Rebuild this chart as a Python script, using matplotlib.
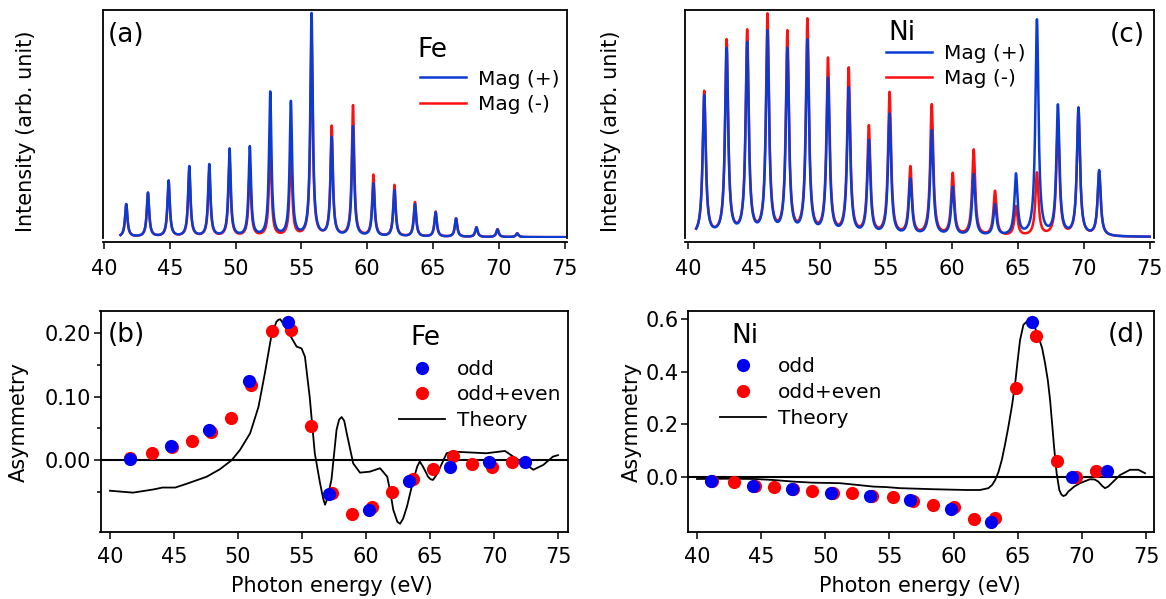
import numpy as np
import matplotlib
matplotlib.use('Agg')
import matplotlib.pyplot as plt

plt.rcParams['font.family'] = 'DejaVu Sans'
plt.rcParams['font.size'] = 15

# Harmonic peaks: photon energy (eV) and peak intensity (arb. unit)
fe_peak_e = [41.69, 43.34, 44.91, 46.48, 48.0, 49.54, 51.08, 52.63, 54.2, 55.77,
             57.3, 58.92, 60.47, 62.07, 63.63, 65.2, 66.75, 68.3, 69.9, 71.4]
fe_plus = [35, 46.7, 58.7, 73, 75, 90.7, 93, 147.7, 138.3, 226.3,
           102.3, 113, 55.7, 49, 35, 26.7, 20.7, 11.7, 9.7, 5.7]
fe_minus = [34.7, 45.7, 56.3, 68.6, 68.5, 79.3, 73.2, 97.6, 91.2, 203,
            113.5, 134, 64.5, 54.2, 37.1, 27.5, 20.4, 11.8, 9.9, 5.7]

ni_peak_e = [41.21, 42.91, 44.47, 46.01, 47.52, 49.04, 50.6, 52.17, 53.7, 55.27,
             56.85, 58.47, 60.06, 61.65, 63.27, 64.86, 66.45, 68.04, 69.6, 71.17]
ni_plus = [145, 192.3, 198.3, 210, 192.3, 200.7, 162.7, 152.7, 100, 126.7,
           61.7, 110, 53.3, 66, 36, 66.7, 220.7, 135.7, 132.7, 70]
ni_minus = [149.3, 201, 210.7, 226.7, 210, 221.7, 182.7, 172.7, 115, 148.3,
            74, 136, 67.3, 90.7, 49.3, 34, 67.7, 120, 132, 68.3]

# Magnetic asymmetry, Fe
fe_odd_e = [41.56, 44.74, 47.76, 50.86, 53.93, 57.1, 60.23, 63.34, 66.54, 69.6, 72.42]
fe_odd = [0.002, 0.022, 0.047, 0.124, 0.217, -0.053, -0.079, -0.033, -0.010, -0.003, -0.003]
fe_all_e = [41.6, 43.26, 44.87, 46.38, 47.89, 49.45, 50.99, 52.63, 54.11, 55.7,
            57.32, 58.88, 60.44, 62.03, 63.7, 65.21, 66.77, 68.3, 69.87, 71.38]
fe_all = [0.004, 0.011, 0.021, 0.031, 0.045, 0.067, 0.119, 0.204, 0.205, 0.054,
          -0.052, -0.085, -0.073, -0.050, -0.029, -0.014, 0.007, -0.006, -0.010, -0.003]
fe_theory_e = [40.0, 41.8, 43.4, 44.1, 45.1, 46.0, 47.55, 48.6, 49.5, 50.15, 50.95,
               51.6, 52.1, 52.6, 53.0, 53.15, 53.3, 53.5, 54.06, 54.58, 54.97, 55.23,
               55.6, 56.0, 56.4, 56.65, 56.8, 56.95, 57.3, 57.7, 57.9, 58.1, 58.3,
               58.5, 59.0, 59.53, 60.3, 61.1, 61.66, 61.9, 62.13, 62.45, 62.66, 62.9,
               63.2, 63.7, 64.0, 64.2, 64.45, 64.85, 65.05, 65.23, 65.45, 65.76, 66.3,
               66.8, 68.37, 69.4, 70.86, 71.5, 72.55, 73.07, 73.85, 74.6, 75.0]
fe_theory = [-0.048, -0.051, -0.046, -0.043, -0.043, -0.037, -0.026, -0.014, 0.0,
             0.016, 0.0425, 0.084, 0.137, 0.195, 0.218, 0.221, 0.222, 0.216, 0.197,
             0.179, 0.176, 0.163, 0.10, 0.011, -0.035, -0.060, -0.070, -0.062,
             -0.031, 0.048, 0.064, 0.068, 0.062, 0.042, -0.005, -0.0195, -0.018,
             -0.0126, -0.026, -0.050, -0.078, -0.097, -0.100, -0.092, -0.073,
             -0.031, -0.010, -0.002, -0.010, -0.026, -0.030, -0.031, -0.025, -0.0126,
             0.011, 0.0136, 0.012, 0.011, 0.0146, 0.0057, -0.0074, -0.015, -0.0074,
             0.0057, 0.008]

# Magnetic asymmetry, Ni
ni_odd_e = [41.09, 44.39, 47.38, 50.42, 53.48, 56.6, 59.77, 62.89, 66.09, 69.2, 71.98]
ni_odd = [-0.016, -0.034, -0.047, -0.061, -0.073, -0.089, -0.122, -0.171, 0.590, 0.0, 0.023]
ni_all_e = [41.2, 42.91, 44.5, 46.0, 47.5, 49.0, 50.57, 52.1, 53.66, 55.3,
            56.85, 58.42, 60.03, 61.59, 63.25, 64.86, 66.42, 68.03, 69.57, 71.1]
ni_all = [-0.016, -0.021, -0.036, -0.040, -0.047, -0.053, -0.061, -0.063, -0.075, -0.079,
          -0.091, -0.108, -0.117, -0.161, -0.159, 0.339, 0.536, 0.061, 0.0, 0.023]
ni_theory_e = [40.0, 42.5, 44.5, 46.0, 47.5, 49.0, 51.15, 53.75, 54.8, 55.82, 58.42,
               61.02, 62.06, 62.71, 63.0, 63.24, 63.5, 63.76, 64.0, 64.27, 64.55,
               64.8, 65.0, 65.18, 65.44, 65.83, 66.22, 66.61, 66.9, 67.13, 67.35,
               67.52, 67.7, 67.83, 68.03, 68.24, 68.4, 68.55, 68.75, 68.94, 69.4,
               69.85, 70.63, 71.0, 71.28, 71.55, 71.8, 72.05, 72.32, 72.97, 73.75,
               74.4, 74.92]
ni_theory = [-0.009, -0.008, -0.009, -0.013, -0.019, -0.023, -0.025, -0.038, -0.040,
             -0.044, -0.048, -0.051, -0.051, -0.044, -0.032, -0.013, 0.018, 0.064,
             0.12, 0.19, 0.27, 0.356, 0.445, 0.52, 0.578, 0.597, 0.584, 0.533,
             0.49, 0.432, 0.365, 0.292, 0.19, 0.114, 0.013, -0.051, -0.068, -0.074,
             -0.070, -0.057, -0.038, -0.025, -0.010, -0.011, -0.019, -0.034, -0.044,
             -0.038, -0.025, 0.006, 0.026, 0.026, 0.013]

BLUE = '#0a3cd4'
RED = '#ff1010'
DOT_BLUE = '#0000f0'
DOT_RED = '#ff0000'


def spectrum(e, centers, heights, width, bg):
    # lorentzian line for each harmonic, amplitudes chosen so the summed
    # curve passes through the given peak heights
    centers = np.asarray(centers)
    heights = np.asarray(heights, dtype=float)
    lor = lambda x: width ** 2 / (x ** 2 + width ** 2)
    m = lor(centers[:, None] - centers[None, :])
    amp = np.linalg.solve(m, heights - bg)
    return bg + lor(e[:, None] - centers[None, :]) @ amp


W, H = 1166, 599
fig = plt.figure(figsize=(W / 100, H / 100), dpi=100)
ax_a = fig.add_axes([102.5 / W, 1 - 238 / H, 464.5 / W, 228 / H])
ax_c = fig.add_axes([684.7 / W, 1 - 238 / H, 469.3 / W, 228 / H])
ax_b = fig.add_axes([100.5 / W, 1 - 532 / H, 467.5 / W, 221 / H])
ax_d = fig.add_axes([688 / W, 1 - 532 / H, 466 / W, 221 / H])

leg_kw = dict(loc='upper left', frameon=False, fontsize=14.5, handlelength=2.28,
              handletextpad=0.58, labelspacing=0.33, borderpad=0, borderaxespad=0,
              numpoints=1)

# top: spectra
e_fe = np.linspace(41.25, 75.0, 4000)
e_ni = np.linspace(40.6, 75.0, 4000)
for ax, e, pk, plus, minus, w, bg, name, tag, lims in [
        (ax_a, e_fe, fe_peak_e, fe_plus, fe_minus, 0.11, 1.8, 'Fe', '(a)', (39.886, 75.18, 1, 229)),
        (ax_c, e_ni, ni_peak_e, ni_plus, ni_minus, 0.14, 3.0, 'Ni', '(c)', (39.73, 75.33, 2, 230))]:
    l_minus, = ax.plot(e, spectrum(e, pk, minus, w, bg), color=RED, lw=1.8)
    l_plus, = ax.plot(e, spectrum(e, pk, plus, w, bg), color=BLUE, lw=1.8)
    ax.set_xlim(lims[0], lims[1])
    ax.set_ylim(lims[2], lims[3])
    ax.set_yticks([])
    ax.set_xticks(range(40, 80, 5))
    ax.spines['bottom'].set_position(('outward', 3))
    ax.tick_params(axis='x', direction='out', length=5, width=1.1, pad=7, labelsize=15)
    ax.set_ylabel('Intensity (arb. unit)', fontsize=15)
    if name == 'Fe':
        ax.yaxis.set_label_coords(-0.143, 0.47)
        ax.text(0.677, 0.795, name, transform=ax.transAxes, fontsize=19)
        ax.legend([l_plus, l_minus], ['Mag (+)', 'Mag (-)'],
                  bbox_to_anchor=(0.6835, 0.739), **leg_kw)
        ax.text(0.012, 0.8925, tag, transform=ax.transAxes, fontsize=19, va='center')
    else:
        ax.yaxis.set_label_coords(-0.136, 0.47)
        ax.text(0.433, 0.868, name, transform=ax.transAxes, fontsize=19)
        ax.legend([l_plus, l_minus], ['Mag (+)', 'Mag (-)'],
                  bbox_to_anchor=(0.429, 0.852), **leg_kw)
        ax.text(0.981, 0.89, tag, transform=ax.transAxes, fontsize=19, va='center', ha='right')

# bottom: asymmetry
for ax, odd_e, odd, all_e, alls, th_e, th, name, tag in [
        (ax_b, fe_odd_e, fe_odd, fe_all_e, fe_all, fe_theory_e, fe_theory, 'Fe', '(b)'),
        (ax_d, ni_odd_e, ni_odd, ni_all_e, ni_all, ni_theory_e, ni_theory, 'Ni', '(d)')]:
    ax.axhline(0, color='black', lw=1.5, zorder=1)
    th_line, = ax.plot(th_e, th, color='black', lw=1.3, zorder=2)
    p_all, = ax.plot(all_e, alls, 'o', color=DOT_RED, ms=9.5, mew=0, zorder=3)
    p_odd, = ax.plot(odd_e, odd, 'o', color=DOT_BLUE, ms=9.5, mew=0, zorder=4)
    ax.set_xticks(range(40, 80, 5))
    ax.tick_params(direction='out', length=5, width=1.1, labelsize=15)
    ax.tick_params(axis='x', pad=6)
    ax.tick_params(axis='y', pad=1.5)
    ax.set_xlabel('Photon energy (eV)', fontsize=15)
    ax.set_ylabel('Asymmetry', fontsize=15)
    if name == 'Fe':
        ax.set_xlim(39.26, 75.78)
        ax.set_ylim(-0.113, 0.235)
        ax.set_yticks([0.0, 0.1, 0.2])
        ax.set_yticklabels(['0.00', '0.10', '0.20'])
        ax.set_yticks([-0.05, 0.05, 0.15], minor=True)
        ax.tick_params(axis='y', which='minor', direction='out', length=3, width=1.1)
        ax.xaxis.set_label_coords(0.495, -0.2)
        ax.yaxis.set_label_coords(-0.154, 0.5)
        ax.text(0.662, 0.846, name, transform=ax.transAxes, fontsize=19)
        ax.legend([p_odd, p_all, th_line], ['odd', 'odd+even', 'Theory'],
                  bbox_to_anchor=(0.6385, 0.78), **leg_kw)
        ax.text(0.016, 0.891, tag, transform=ax.transAxes, fontsize=19, va='center')
    else:
        ax.set_xlim(39.3, 75.62)
        ax.set_ylim(-0.211, 0.631)
        ax.set_yticks([0.0, 0.2, 0.4, 0.6])
        ax.set_yticklabels(['0.0', '0.2', '0.4', '0.6'])
        ax.xaxis.set_label_coords(0.498, -0.2)
        ax.yaxis.set_label_coords(-0.099, 0.5)
        ax.text(0.0938, 0.854, name, transform=ax.transAxes, fontsize=19)
        ax.legend([p_odd, p_all, th_line], ['odd', 'odd+even', 'Theory'],
                  bbox_to_anchor=(0.0687, 0.79), **leg_kw)
        ax.text(0.981, 0.891, tag, transform=ax.transAxes, fontsize=19, va='center', ha='right')

for ax in (ax_a, ax_b, ax_c, ax_d):
    for sp in ax.spines.values():
        sp.set_linewidth(1.3)

fig.savefig('out.png', dpi=100)
